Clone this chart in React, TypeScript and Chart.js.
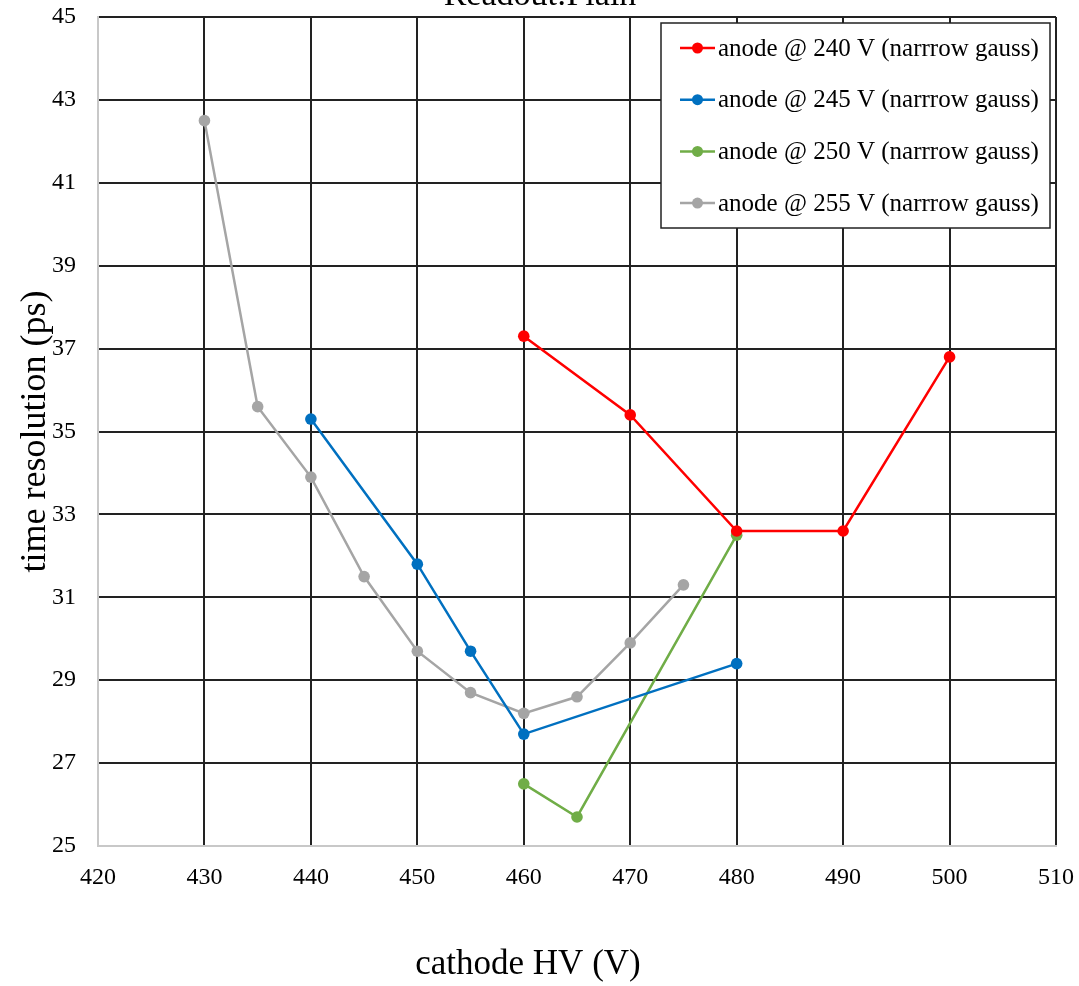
import React, { useEffect, useRef } from "react";
import { Chart, registerables } from "chart.js";

Chart.register(...registerables);

const titleText = "Readout:Plain";
const xTitle = "cathode HV (V)";
const yTitle = "time resolution (ps)";

const seriesLabels = [
  "anode @ 240 V (narrrow gauss)",
  "anode @ 245 V (narrrow gauss)",
  "anode @ 250 V (narrrow gauss)",
  "anode @ 255 V (narrrow gauss)",
];
const seriesColors = ["#FF0000", "#0070C0", "#70AD47", "#A5A5A5"];

const x240 = [460, 470, 480, 490, 500];
const y240 = [37.3, 35.4, 32.6, 32.6, 36.8];

const x245 = [440, 450, 455, 460, 480];
const y245 = [35.3, 31.8, 29.7, 27.7, 29.4];

const x250 = [460, 465, 480];
const y250 = [26.5, 25.7, 32.5];

const x255 = [430, 435, 440, 445, 450, 455, 460, 465, 470, 475];
const y255 = [42.5, 35.6, 33.9, 31.5, 29.7, 28.7, 28.2, 28.6, 29.9, 31.3];

const xMin = 420, xMax = 510, xStep = 10;
const yMin = 25, yMax = 45, yStep = 2;

const FONT = "'Liberation Serif', 'Times New Roman', serif";

function pts(xs: number[], ys: number[]) {
  return xs.map((x, i) => ({ x, y: ys[i] }));
}

const overlayPlugin = {
  id: "overlay",
  afterDraw(chart: any) {
    const ctx = chart.ctx;
    ctx.save();
    // title (cut off at top in reference)
    ctx.font = `34px ${FONT}`;
    ctx.fillStyle = "#000";
    ctx.textAlign = "center";
    ctx.textBaseline = "alphabetic";
    ctx.fillText(titleText, 540, 5);

    // x axis title
    ctx.font = `35px ${FONT}`;
    ctx.textBaseline = "middle";
    ctx.fillText(xTitle, 528, 965);

    // legend box
    const bx = 661, by = 23, bw = 389, bh = 205;
    ctx.fillStyle = "#fff";
    ctx.fillRect(bx, by, bw, bh);
    ctx.strokeStyle = "#222";
    ctx.lineWidth = 1.5;
    ctx.strokeRect(bx, by, bw, bh);
    ctx.font = `25px ${FONT}`;
    ctx.textAlign = "left";
    ctx.textBaseline = "middle";
    seriesLabels.forEach((lab, i) => {
      const cy = 48 + i * 51.7;
      ctx.strokeStyle = seriesColors[i];
      ctx.lineWidth = 2.5;
      ctx.beginPath();
      ctx.moveTo(680, cy);
      ctx.lineTo(715, cy);
      ctx.stroke();
      ctx.fillStyle = seriesColors[i];
      ctx.beginPath();
      ctx.arc(697.5, cy, 5.5, 0, Math.PI * 2);
      ctx.fill();
      ctx.fillStyle = "#000";
      ctx.fillText(lab, 718, cy + 1);
    });
    ctx.restore();
  },
};

export default function App() {
  const ref = useRef<HTMLCanvasElement>(null);
  useEffect(() => {
    if (!ref.current) return;
    const xs = [x240, x245, x250, x255];
    const ys = [y240, y245, y250, y255];
    const chart = new Chart(ref.current, {
      type: "line",
      data: {
        datasets: seriesLabels.map((label, i) => ({
          label,
          data: pts(xs[i], ys[i]),
          borderColor: seriesColors[i],
          backgroundColor: seriesColors[i],
          pointBackgroundColor: seriesColors[i],
          pointBorderColor: seriesColors[i],
          pointRadius: 5.8,
          pointBorderWidth: 0,
          borderWidth: 2.5,
          tension: 0,
          fill: false,
        })),
      },
      options: {
        animation: false,
        responsive: false,
        maintainAspectRatio: false,
        layout: { padding: { top: 17, right: 23, left: 0, bottom: 0 } },
        plugins: {
          legend: { display: false },
          title: { display: false },
          tooltip: { enabled: false },
        },
        scales: {
          x: {
            type: "linear",
            min: xMin,
            max: xMax,
            afterFit: (s: any) => { s.height = 140; s.paddingLeft = 0; s.paddingRight = 0; },
            ticks: {
              stepSize: xStep,
              padding: 17,
              color: "#000",
              font: { family: FONT, size: 24 },
            },
            grid: { color: "#222", lineWidth: 2, drawTicks: false },
            border: { color: "#c8c8c8", width: 2 },
            title: { display: false },
          },
          y: {
            type: "linear",
            min: yMin,
            max: yMax,
            afterFit: (s: any) => { s.width = 98; s.paddingTop = 0; s.paddingBottom = 0; },
            ticks: {
              stepSize: yStep,
              padding: 22,
              color: "#000",
              font: { family: FONT, size: 24 },
            },
            grid: { color: "#222", lineWidth: 2, drawTicks: false },
            border: { color: "#c8c8c8", width: 2 },
            title: {
              display: true,
              text: yTitle,
              color: "#000",
              font: { family: FONT, size: 36 },
              padding: { top: 14, bottom: 0 },
            },
          },
        },
      },
      plugins: [overlayPlugin],
    });
    return () => chart.destroy();
  }, []);
  return (
    <div style={{ position: "fixed", left: 0, top: 0, width: 1079, height: 986, background: "#fff" }}>
      <canvas ref={ref} width={1079} height={986} style={{ width: 1079, height: 986, display: "block" }} />
    </div>
  );
}
